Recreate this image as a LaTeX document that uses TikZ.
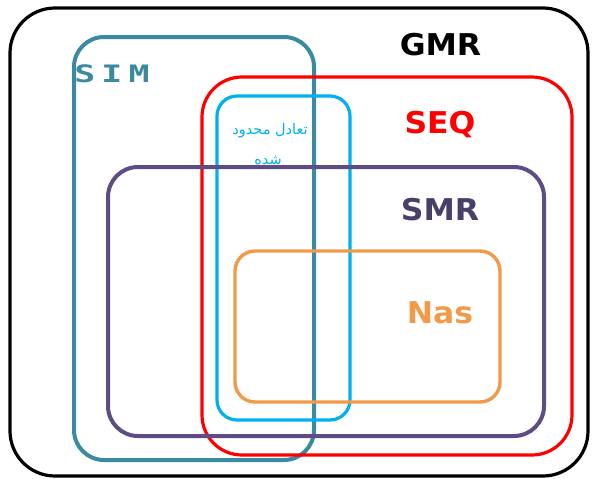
\documentclass[tikz,border=0pt]{standalone}
\usepackage{fontspec}
\setmainfont{DejaVu Sans}
\newfontfamily\labfont{DejaVu Sans}
\newfontfamily\simfont[LetterSpace=18]{DejaVu Sans Mono}
\newfontfamily\arabicfont[Script=Arabic]{DejaVu Sans}
\TeXXeTstate=1
\definecolor{simcol}{HTML}{3A8AA0}
\definecolor{seqcol}{HTML}{FF0000}
\definecolor{eqcol}{HTML}{00B0F0}
\definecolor{smrcol}{HTML}{5E4C86}
\definecolor{nascol}{HTML}{F29A4A}
\definecolor{smrtext}{HTML}{4A3F6B}
\tikzset{
  setbox/.style={draw, fill=none},
  lab/.style={font=\labfont\bfseries\fontsize{30}{32}\selectfont, inner sep=0pt, xscale=1.05, transform shape},
  eqlab/.style={font=\arabicfont\fontsize{14.5}{16}\selectfont, text=eqcol, inner sep=0pt}
}
\begin{document}
\begin{tikzpicture}[x=1pt,y=-1pt]
\useasboundingbox (0,0) rectangle (592,479);
% sets
\draw[setbox, black, line width=3.2pt, rounded corners=45pt] (10,8) rectangle (588,476);
\draw[setbox, simcol, line width=4pt, rounded corners=30pt] (74,37) rectangle (314,460);
\draw[setbox, seqcol, line width=3.2pt, rounded corners=40pt] (202,77) rectangle (572,455);
\draw[setbox, eqcol, line width=3.2pt, rounded corners=20pt] (217,96) rectangle (350,420);
\draw[setbox, smrcol, line width=4pt, rounded corners=30pt] (108,167) rectangle (544,436);
\draw[setbox, nascol, line width=3.4pt, rounded corners=20pt] (235,251) rectangle (500,402);
% labels
\node[lab, black] (gmr) at (440.5,45) {GMR};
\node[lab, seqcol] (seq) at (440,125) {SEQ};
\node[lab, smrtext] (smr) at (440,210) {SMR};
\node[lab, nascol] (nas) at (440,313) {Nas};
\node[font=\simfont\bfseries\fontsize{24}{26}\selectfont, text=simcol, inner sep=0pt, xscale=1.45, transform shape] (sim) at (112,74) {SIM};
\node[eqlab] (eq1) at (270,131) {\beginR تعادل محدود\endR};
\node[eqlab] (eq2) at (268,160) {\beginR شده\endR};
\end{tikzpicture}
\end{document}
